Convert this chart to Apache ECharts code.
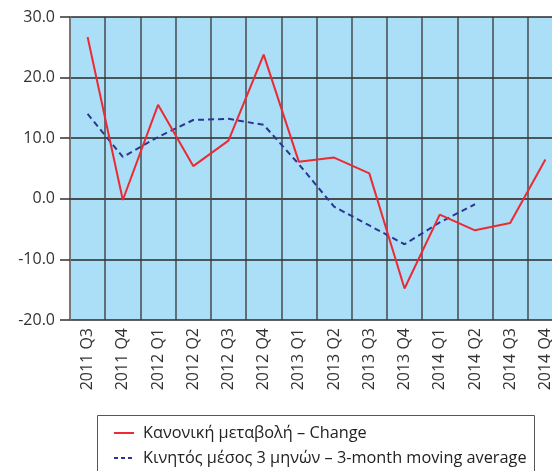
<!DOCTYPE html>
<html>
<head>
<meta charset="utf-8">
<script src="https://cdn.jsdelivr.net/npm/echarts@6/dist/echarts.min.js"></script>
<style>
  html, body { margin: 0; padding: 0; background: #fff; overflow: hidden; }
  /* canvas runs a little past the right window edge so the last column is cut off */
  #chart { width: 563px; height: 471px; }
</style>
</head>
<body>
<div id="chart"></div>
<script>
// Quarterly periods
const quarters = ['2011 Q3', '2011 Q4', '2012 Q1', '2012 Q2', '2012 Q3', '2012 Q4',
                  '2013 Q1', '2013 Q2', '2013 Q3', '2013 Q4', '2014 Q1', '2014 Q2',
                  '2014 Q3', '2014 Q4'];

// Change (%)
const changeValues = [26.7, -0.2, 15.5, 5.4, 9.6, 23.8, 6.1, 6.8, 4.2, -14.8, -2.6, -5.2, -4.0, 6.5];

// 3-month moving average (%)
const movingAvgValues = [14.0, 6.9, 10.2, 13.0, 13.2, 12.2, 5.7, -1.3, -4.4, -7.5, -3.9, -0.9, null, null];

const seriesNames = ['Κανονική μεταβολή – Change', 'Κινητός μέσος 3 μηνών – 3-month moving average'];

const yMin = -20, yMax = 30, yStep = 10;

const red = '#ec2a33';
const navy = '#2b3592';
const font = '"Open Sans", "Noto Sans", sans-serif';

const chart = echarts.init(document.getElementById('chart'), null, { renderer: 'canvas' });

// Legend drawn as a framed box with line swatches
const legendItems = [
  { name: seriesNames[0], color: red, dash: null, y: 433 },
  { name: seriesNames[1], color: navy, dash: [4, 3], y: 458 }
];
const legendGraphics = [{
  type: 'rect',
  shape: { x: 97.5, y: 415.5, width: 437, height: 80 },
  style: { fill: 'none', stroke: '#555', lineWidth: 1 },
  silent: true
}];
legendItems.forEach(it => {
  legendGraphics.push({
    type: 'line',
    shape: { x1: 114, y1: it.y, x2: 134, y2: it.y },
    style: { stroke: it.color, lineWidth: 2, lineDash: it.dash },
    silent: true
  });
  legendGraphics.push({
    type: 'text',
    x: 143, y: it.y,
    style: { text: it.name, fill: '#222', font: '16.3px ' + font, textVerticalAlign: 'middle' },
    silent: true
  });
});

chart.setOption({
  animation: false,
  backgroundColor: '#ffffff',
  textStyle: { fontFamily: font },
  grid: {
    left: 70, top: 17, right: 0, bottom: 151,
    show: true,
    backgroundColor: '#abdff8',
    borderWidth: 0
  },
  xAxis: {
    type: 'category',
    data: quarters,
    boundaryGap: true,
    axisLine: { show: true, lineStyle: { color: '#4a4a4a', width: 2 } },
    axisTick: { show: false },
    axisLabel: { rotate: 90, margin: 8, color: '#333', fontSize: 16 },
    splitLine: { show: true, lineStyle: { color: '#3a3a3a', width: 1.6, opacity: 0.85 } }
  },
  yAxis: {
    type: 'value',
    min: yMin, max: yMax, interval: yStep,
    axisLine: { show: true, lineStyle: { color: '#777', width: 2 } },
    axisTick: { show: true, inside: false, length: 10, lineStyle: { color: '#333', width: 1.5 } },
    axisLabel: { color: '#333', fontSize: 16, margin: 15, formatter: v => v.toFixed(1) },
    splitLine: { show: true, lineStyle: { color: '#2a2a2a', width: 1.6 } }
  },
  graphic: legendGraphics,
  series: [
    {
      name: seriesNames[0],
      type: 'line',
      data: changeValues,
      symbol: 'none',
      lineStyle: { color: red, width: 2 },
      itemStyle: { color: red },
      z: 3
    },
    {
      name: seriesNames[1],
      type: 'line',
      data: movingAvgValues,
      symbol: 'none',
      connectNulls: false,
      lineStyle: { color: navy, width: 2, type: [6, 4] },
      itemStyle: { color: navy },
      z: 2
    }
  ]
});
</script>
</body>
</html>
